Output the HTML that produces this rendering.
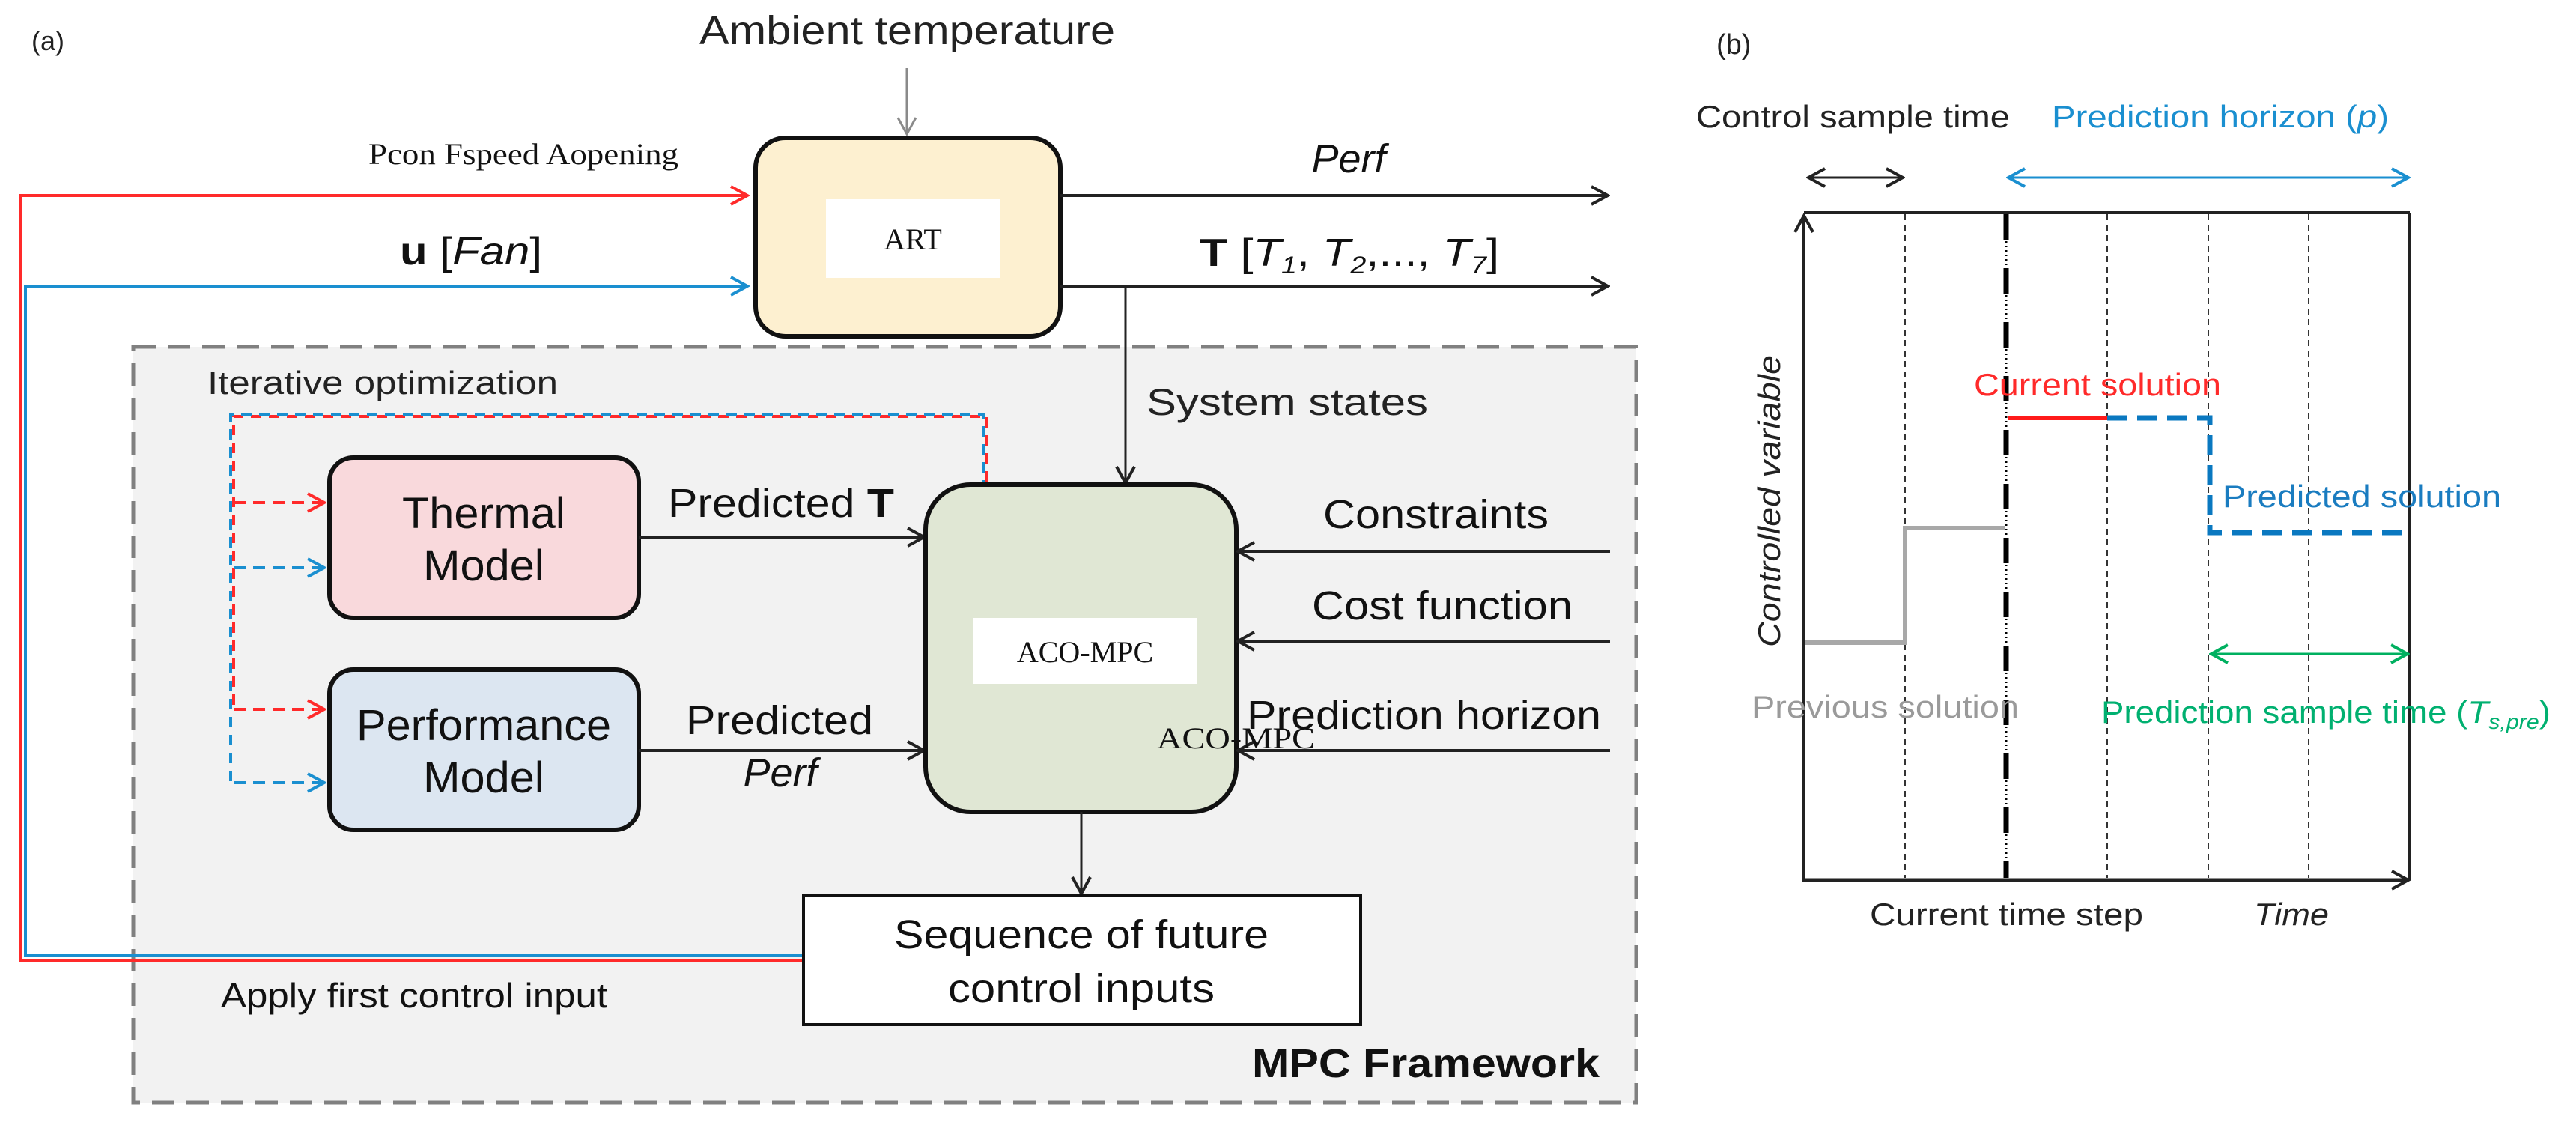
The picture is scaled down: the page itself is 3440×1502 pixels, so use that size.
<!DOCTYPE html>
<html><head><meta charset="utf-8"><style>
html,body{margin:0;padding:0;background:#fff;}
svg{display:block;}
text{font-family:"Liberation Sans",Arial,sans-serif;}
.serif{font-family:"Liberation Serif","Times New Roman",serif;}
</style></head><body>
<svg width="3440" height="1502" viewBox="0 0 3440 1502" xmlns="http://www.w3.org/2000/svg">
<defs>
<marker id="ak" markerWidth="12" markerHeight="12" refX="10" refY="6" orient="auto" markerUnits="userSpaceOnUse" viewBox="0 0 12 12"><path d="M0,0 L10,6 L0,12" fill="none" stroke="#000" stroke-width="2"/></marker>
<marker id="akb" markerWidth="30" markerHeight="30" refX="27" refY="15" orient="auto" markerUnits="userSpaceOnUse" viewBox="0 0 30 30"><path d="M5,3 L27,15 L5,27" fill="none" stroke="#222" stroke-width="4"/></marker>
<marker id="ar" markerWidth="30" markerHeight="30" refX="27" refY="15" orient="auto" markerUnits="userSpaceOnUse" viewBox="0 0 30 30"><path d="M5,3 L27,15 L5,27" fill="none" stroke="#ff2a2a" stroke-width="4"/></marker>
<marker id="ab" markerWidth="30" markerHeight="30" refX="27" refY="15" orient="auto" markerUnits="userSpaceOnUse" viewBox="0 0 30 30"><path d="M5,3 L27,15 L5,27" fill="none" stroke="#1a8fd0" stroke-width="4"/></marker>
<marker id="ag" markerWidth="30" markerHeight="30" refX="27" refY="15" orient="auto" markerUnits="userSpaceOnUse" viewBox="0 0 30 30"><path d="M5,3 L27,15 L5,27" fill="none" stroke="#8a8a8a" stroke-width="3"/></marker>
<marker id="agr" markerWidth="30" markerHeight="30" refX="27" refY="15" orient="auto-start-reverse" markerUnits="userSpaceOnUse" viewBox="0 0 30 30"><path d="M5,3 L27,15 L5,27" fill="none" stroke="#00b060" stroke-width="4"/></marker>
<marker id="abl" markerWidth="30" markerHeight="30" refX="27" refY="15" orient="auto-start-reverse" markerUnits="userSpaceOnUse" viewBox="0 0 30 30"><path d="M5,3 L27,15 L5,27" fill="none" stroke="#1a8fd0" stroke-width="4"/></marker>
<marker id="abk" markerWidth="30" markerHeight="30" refX="27" refY="15" orient="auto-start-reverse" markerUnits="userSpaceOnUse" viewBox="0 0 30 30"><path d="M5,3 L27,15 L5,27" fill="none" stroke="#222" stroke-width="4"/></marker>
</defs>

<!-- ===== Panel (a) ===== -->
<text x="42" y="67" font-size="36" fill="#222">(a)</text>
<text x="934" y="59" font-size="54" fill="#222" textLength="555" lengthAdjust="spacingAndGlyphs">Ambient temperature</text>
<line x1="1211" y1="91" x2="1211" y2="179" stroke="#8a8a8a" stroke-width="3" marker-end="url(#ag)"/>

<!-- MPC framework box -->
<rect x="178" y="463" width="2007" height="1009" fill="#f2f2f2" stroke="#808080" stroke-width="5" stroke-dasharray="30,16"/>

<text x="492" y="219" font-size="40" class="serif" fill="#111" textLength="414" lengthAdjust="spacingAndGlyphs">Pcon Fspeed Aopening</text>
<text x="534" y="353" font-size="52" fill="#111" textLength="190" lengthAdjust="spacingAndGlyphs"><tspan font-weight="bold">u</tspan> [<tspan font-style="italic">Fan</tspan>]</text>

<!-- red/blue feedback lines -->
<polyline points="1071,1282 28,1282 28,261 998,261" fill="none" stroke="#ff2a2a" stroke-width="4" marker-end="url(#ar)"/>
<polyline points="1071,1276 34,1276 34,382 998,382" fill="none" stroke="#1a8fd0" stroke-width="4" marker-end="url(#ab)"/>

<!-- ART box -->
<rect x="1009" y="184" width="407" height="265" rx="40" fill="#fdf0d0" stroke="#111" stroke-width="6"/>
<rect x="1103" y="266" width="232" height="105" fill="#fff"/>
<text x="1219" y="333" font-size="40" class="serif" text-anchor="middle" fill="#111">ART</text>

<!-- outputs -->
<line x1="1416" y1="261" x2="2147" y2="261" stroke="#222" stroke-width="4" marker-end="url(#akb)"/>
<line x1="1416" y1="382" x2="2147" y2="382" stroke="#222" stroke-width="4" marker-end="url(#akb)"/>
<text x="1801" y="230" font-size="54" font-style="italic" text-anchor="middle" fill="#111">Perf</text>
<text x="1602" y="355" font-size="52" fill="#111" textLength="400" lengthAdjust="spacingAndGlyphs"><tspan font-weight="bold">T</tspan> [<tspan font-style="italic">T</tspan><tspan font-size="32" dy="10" font-style="italic">1</tspan><tspan dy="-10">, </tspan><tspan font-style="italic">T</tspan><tspan font-size="32" dy="10" font-style="italic">2</tspan><tspan dy="-10">,..., </tspan><tspan font-style="italic">T</tspan><tspan font-size="32" dy="10" font-style="italic">7</tspan><tspan dy="-10">]</tspan></text>
<line x1="1503" y1="382" x2="1503" y2="645" stroke="#222" stroke-width="3" marker-end="url(#akb)"/>

<text x="277" y="526" font-size="44" fill="#222" textLength="468" lengthAdjust="spacingAndGlyphs">Iterative optimization</text>
<text x="1531" y="554" font-size="50" fill="#222" textLength="376" lengthAdjust="spacingAndGlyphs">System states</text>

<!-- iterative dashed loop -->
<polyline points="1318,643 1318,556 312,556 312,947" fill="none" stroke="#ff2a2a" stroke-width="4" stroke-dasharray="14,10"/>
<polyline points="1314,643 1314,553 308,553 308,1045" fill="none" stroke="#1a8fd0" stroke-width="4" stroke-dasharray="14,10" stroke-dashoffset="12"/>
<line x1="312" y1="671" x2="433" y2="671" stroke="#ff2a2a" stroke-width="4" stroke-dasharray="16,10" marker-end="url(#ar)"/>
<line x1="312" y1="758" x2="433" y2="758" stroke="#1a8fd0" stroke-width="4" stroke-dasharray="16,10" marker-end="url(#ab)"/>
<line x1="312" y1="947" x2="433" y2="947" stroke="#ff2a2a" stroke-width="4" stroke-dasharray="16,10" marker-end="url(#ar)"/>
<line x1="312" y1="1045" x2="433" y2="1045" stroke="#1a8fd0" stroke-width="4" stroke-dasharray="16,10" marker-end="url(#ab)"/>

<!-- thermal model -->
<rect x="440" y="611" width="413" height="214" rx="32" fill="#f9d9dc" stroke="#111" stroke-width="6"/>
<text x="646" y="705" font-size="58" text-anchor="middle" fill="#111" textLength="218" lengthAdjust="spacingAndGlyphs">Thermal</text>
<text x="646" y="775" font-size="58" text-anchor="middle" fill="#111" textLength="162" lengthAdjust="spacingAndGlyphs">Model</text>
<!-- performance model -->
<rect x="440" y="894" width="413" height="214" rx="32" fill="#dce6f1" stroke="#111" stroke-width="6"/>
<text x="646" y="988" font-size="58" text-anchor="middle" fill="#111" textLength="340" lengthAdjust="spacingAndGlyphs">Performance</text>
<text x="646" y="1058" font-size="58" text-anchor="middle" fill="#111" textLength="162" lengthAdjust="spacingAndGlyphs">Model</text>

<line x1="853" y1="717" x2="1234" y2="717" stroke="#222" stroke-width="4" marker-end="url(#akb)"/>
<text x="892" y="690" font-size="54" fill="#111" textLength="302" lengthAdjust="spacingAndGlyphs">Predicted <tspan font-weight="bold">T</tspan></text>
<line x1="853" y1="1002" x2="1234" y2="1002" stroke="#222" stroke-width="4" marker-end="url(#akb)"/>
<text x="916" y="980" font-size="54" fill="#111" textLength="250" lengthAdjust="spacingAndGlyphs">Predicted</text>
<text x="1042" y="1050" font-size="54" font-style="italic" text-anchor="middle" fill="#111">Perf</text>

<!-- ACO-MPC box -->
<rect x="1236" y="647" width="415" height="437" rx="60" fill="#e0e7d4" stroke="#111" stroke-width="6"/>
<rect x="1300" y="825" width="299" height="88" fill="#fff"/>
<text x="1449" y="884" font-size="40" class="serif" text-anchor="middle" fill="#111">ACO-MPC</text>

<line x1="2150" y1="736" x2="1653" y2="736" stroke="#222" stroke-width="4" marker-end="url(#akb)"/>
<line x1="2150" y1="856" x2="1653" y2="856" stroke="#222" stroke-width="4" marker-end="url(#akb)"/>
<line x1="2150" y1="1002" x2="1653" y2="1002" stroke="#222" stroke-width="4" marker-end="url(#akb)"/>
<text x="1767" y="705" font-size="54" fill="#111" textLength="301" lengthAdjust="spacingAndGlyphs">Constraints</text>
<text x="1752" y="827" font-size="54" fill="#111" textLength="348" lengthAdjust="spacingAndGlyphs">Cost function</text>
<text x="1665" y="973" font-size="54" fill="#111" textLength="473" lengthAdjust="spacingAndGlyphs">Prediction horizon</text>
<text x="1545" y="999" font-size="40" class="serif" fill="#111" textLength="211" lengthAdjust="spacingAndGlyphs">ACO-MPC</text>

<line x1="1444" y1="1084" x2="1444" y2="1193" stroke="#222" stroke-width="3" marker-end="url(#akb)"/>
<rect x="1073" y="1196" width="744" height="172" fill="#fff" stroke="#111" stroke-width="4"/>
<text x="1444" y="1266" font-size="54" text-anchor="middle" fill="#111" textLength="500" lengthAdjust="spacingAndGlyphs">Sequence of future</text>
<text x="1444" y="1338" font-size="54" text-anchor="middle" fill="#111" textLength="356" lengthAdjust="spacingAndGlyphs">control inputs</text>

<text x="295" y="1345" font-size="46" fill="#111" textLength="516" lengthAdjust="spacingAndGlyphs">Apply first control input</text>
<text x="1672" y="1438" font-size="54" font-weight="bold" fill="#111" textLength="464" lengthAdjust="spacingAndGlyphs">MPC Framework</text>

<!-- ===== Panel (b) ===== -->
<text x="2292" y="72" font-size="38" fill="#222">(b)</text>
<text x="2265" y="170" font-size="42" fill="#222" textLength="419" lengthAdjust="spacingAndGlyphs">Control sample time</text>
<text x="2740" y="170" font-size="42" fill="#1a8fd0" textLength="450" lengthAdjust="spacingAndGlyphs">Prediction horizon (<tspan font-style="italic">p</tspan>)</text>
<line x1="2415" y1="237" x2="2541" y2="237" stroke="#222" stroke-width="3" marker-start="url(#abk)" marker-end="url(#abk)"/>
<line x1="2682" y1="237" x2="3216" y2="237" stroke="#1a8fd0" stroke-width="3" marker-start="url(#abl)" marker-end="url(#abl)"/>

<!-- plot frame -->
<line x1="2409" y1="284" x2="3218" y2="284" stroke="#222" stroke-width="4"/>
<line x1="3218" y1="284" x2="3218" y2="1175" stroke="#222" stroke-width="4"/>
<!-- dotted verticals -->
<g stroke="#333" stroke-width="2" stroke-dasharray="8,6">
<line x1="2544" y1="286" x2="2544" y2="1172"/>
<line x1="2814" y1="286" x2="2814" y2="1172"/>
<line x1="2949" y1="286" x2="2949" y2="1172"/>
<line x1="3083" y1="286" x2="3083" y2="1172"/>
</g>
<!-- current time step dash-dot -->
<line x1="2679" y1="286" x2="2679" y2="1172" stroke="#000" stroke-width="3" stroke-dasharray="2,4"/>
<line x1="2679" y1="286" x2="2679" y2="1172" stroke="#000" stroke-width="7" stroke-dasharray="34,38"/>
<!-- axes -->
<line x1="2409" y1="1175" x2="2409" y2="288" stroke="#222" stroke-width="4" marker-end="url(#akb)"/>
<line x1="2407" y1="1175" x2="3216" y2="1175" stroke="#222" stroke-width="5" marker-end="url(#akb)"/>

<!-- previous solution (gray) -->
<polyline points="2411,858 2544,858 2544,705 2677,705" fill="none" stroke="#a8a8a8" stroke-width="6"/>
<!-- current solution red -->
<line x1="2682" y1="558" x2="2814" y2="558" stroke="#ff1a1a" stroke-width="6"/>
<!-- predicted blue dashed -->
<polyline points="2814,558 2951,558 2951,711 3218,711" fill="none" stroke="#0a78c0" stroke-width="7" stroke-dasharray="26,14"/>
<!-- green arrow -->
<line x1="2953" y1="873" x2="3215" y2="873" stroke="#00b060" stroke-width="3" marker-start="url(#agr)" marker-end="url(#agr)"/>

<text x="2636" y="528" font-size="42" fill="#ff2a2a" textLength="330" lengthAdjust="spacingAndGlyphs">Current solution</text>
<text x="2968" y="677" font-size="42" fill="#1a7cc0" textLength="372" lengthAdjust="spacingAndGlyphs">Predicted solution</text>
<text x="2339" y="958" font-size="42" fill="#9a9a9a" textLength="357" lengthAdjust="spacingAndGlyphs">Previous solution</text>
<text x="2806" y="965" font-size="42" fill="#00b070" textLength="600" lengthAdjust="spacingAndGlyphs">Prediction sample time (<tspan font-style="italic">T</tspan><tspan font-style="italic" font-size="28" dy="8">s,pre</tspan><tspan dy="-8">)</tspan></text>
<text transform="translate(2377,864) rotate(-90)" font-size="42" font-style="italic" fill="#222" textLength="390" lengthAdjust="spacingAndGlyphs">Controlled variable</text>
<text x="2497" y="1235" font-size="42" fill="#222" textLength="365" lengthAdjust="spacingAndGlyphs">Current time step</text>
<text x="3010" y="1235" font-size="42" font-style="italic" fill="#222" textLength="100" lengthAdjust="spacingAndGlyphs">Time</text>
</svg>
</body></html>
